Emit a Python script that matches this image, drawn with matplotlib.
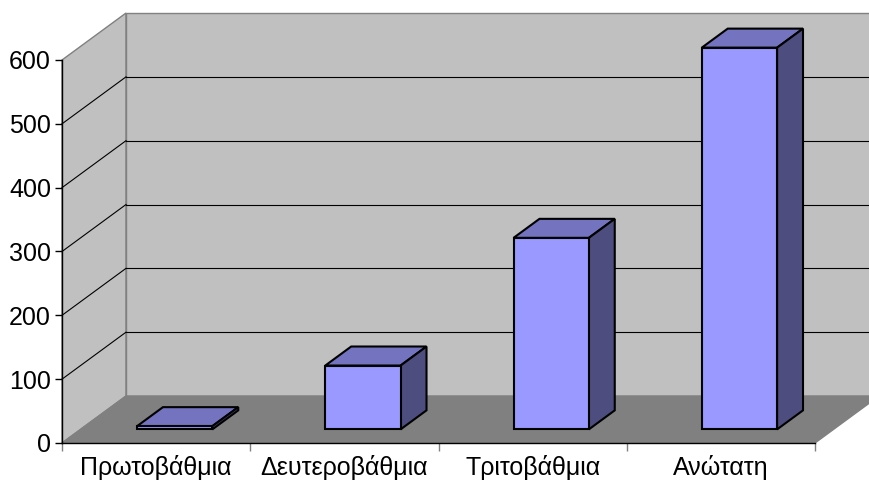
import numpy as np
import matplotlib.pyplot as plt
from matplotlib.patches import Polygon

plt.rcParams['font.family'] = ['Liberation Sans', 'DejaVu Sans']

categories = ['Πρωτοβάθμια', 'Δευτεροβάθμια', 'Τριτοβάθμια', 'Ανώτατη']
values = [5, 100, 300, 598]
yticks = [0, 100, 200, 300, 400, 500, 600]

# depth of the box in data units (x: categories, y: value)
dep_x = 0.34
dep_y = 73.6
bar_w = 0.4
bar_z0 = 0.29  # front face of the bars, as fraction of depth
bar_z1 = 0.695  # back face of the bars

c_front = '#9999FF'
c_top = '#7373C0'
c_side = '#4D4D80'
c_wall = '#C0C0C0'
c_floor = '#808080'
c_edge = '#808080'

fig = plt.figure(figsize=(8.69, 4.84), dpi=100)
ax = fig.add_axes([62 / 869, 41 / 484, 753 / 869, 383 / 484])
n = len(categories)
ax.set_xlim(0, n)
ax.set_ylim(0, 600)


def shift(x, y, z):
    # move a point of the front plane back into the depth
    return (x + z * dep_x, y + z * dep_y)


def poly(pts, fc, ec, lw, zo):
    p = Polygon(pts, closed=True, facecolor=fc, edgecolor=ec, linewidth=lw,
                zorder=zo, clip_on=False, joinstyle='miter')
    ax.add_patch(p)


# walls and floor
top = yticks[-1]
poly([(0, 0), (0, top), shift(0, top, 1), shift(0, 0, 1)], c_wall, c_edge, 1.0, 1)
poly([shift(0, 0, 1), shift(0, top, 1), shift(n, top, 1), shift(n, 0, 1)], c_wall, c_edge, 1.0, 1)
poly([(0, 0), (n, 0), shift(n, 0, 1), shift(0, 0, 1)], c_floor, c_edge, 1.0, 1)

# gridlines on the side and back walls
for v in yticks[1:-1]:
    x0, y0 = shift(0, v, 1)
    x1, y1 = shift(n, v, 1)
    ax.plot([0, x0], [v, y0], color='black', lw=0.8, zorder=2, clip_on=False)
    ax.plot([x0, x1], [y0, y1], color='black', lw=0.8, zorder=2, clip_on=False)

# bars as boxes
for i, v in enumerate(values):
    xl = i + 0.5 - bar_w / 2
    xr = i + 0.5 + bar_w / 2
    f = [shift(xl, 0, bar_z0), shift(xr, 0, bar_z0), shift(xr, v, bar_z0), shift(xl, v, bar_z0)]
    b = [shift(xl, 0, bar_z1), shift(xr, 0, bar_z1), shift(xr, v, bar_z1), shift(xl, v, bar_z1)]
    poly([f[3], f[2], b[2], b[3]], c_top, 'black', 1.5, 3)
    poly([f[1], b[1], b[2], f[2]], c_side, 'black', 1.5, 3)
    poly(f, c_front, 'black', 1.5, 4)

# axes
for s in ['top', 'right']:
    ax.spines[s].set_visible(False)
ax.spines['left'].set_linewidth(1.0)
ax.spines['bottom'].set_linewidth(1.0)
ax.spines['left'].set_zorder(5)
ax.spines['bottom'].set_zorder(5)
ax.patch.set_visible(False)

ax.set_yticks(yticks)
ax.set_yticklabels([str(t) for t in yticks], fontsize=18)
ax.tick_params(axis='y', direction='out', length=5, width=1, pad=3)

ax.set_xticks(np.arange(n + 1))
ax.set_xticklabels([])
ax.set_xticks(np.arange(n) + 0.5, minor=True)
ax.set_xticklabels(categories, minor=True, fontsize=18)
ax.tick_params(axis='x', which='major', direction='out', length=6, width=1, color='#808080')
ax.tick_params(axis='x', which='minor', length=0, pad=9)

fig.savefig('out.png', dpi=100)
